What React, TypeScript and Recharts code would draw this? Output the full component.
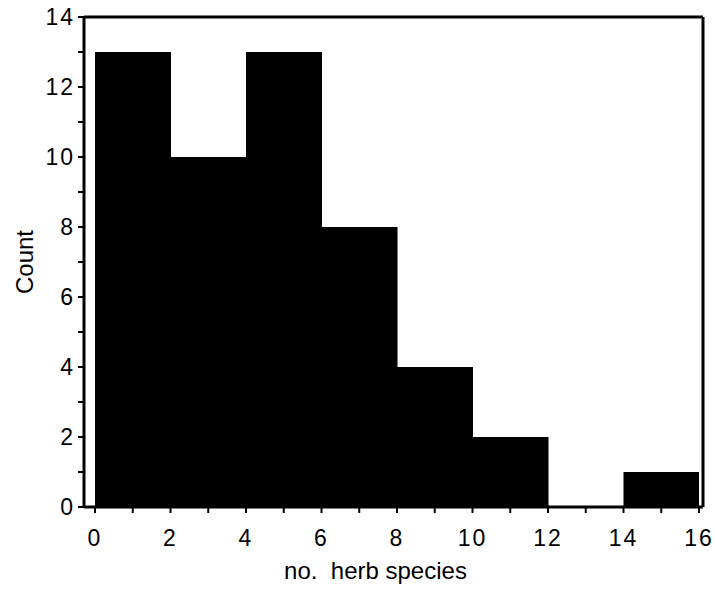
import { BarChart, Bar, XAxis, YAxis } from 'recharts';

// Histogram of herb species counts (bins of width 2, keyed by bin centre)
const BIN_CENTRES = [1, 3, 5, 7, 9, 11, 13, 15];
const COUNTS = [13, 10, 13, 8, 4, 2, 0, 1];
const X_TICKS = [0, 1, 2, 3, 4, 5, 6, 7, 8, 9, 10, 11, 12, 13, 14, 15, 16];
const Y_TICKS = [0, 1, 2, 3, 4, 5, 6, 7, 8, 9, 10, 11, 12, 13, 14];

const FONT = '"Liberation Sans", Arial, Helvetica, sans-serif';
const INK = '#000000';
const X_PAD = { left: 11, right: 4 };

const data = BIN_CENTRES.map((mid, i) => ({ mid, count: COUNTS[i] }));

const evenOnly = (v: number) => (v % 2 === 0 ? String(v) : '');

const tickStyle = { fontSize: 23, fill: INK, fontFamily: FONT, letterSpacing: 2 };
const lineStyle = { stroke: INK, strokeWidth: 3 };
const tickLineStyle = { stroke: INK, strokeWidth: 2 };

export default function App() {
  return (
    <div style={{ position: 'absolute', left: 0, top: 0, background: '#fff' }}>
      <BarChart
        width={715}
        height={589}
        data={data}
        margin={{ top: 0, right: 0, bottom: 0, left: 0 }}
        barCategoryGap={0}
        barGap={0}
      >
        <XAxis
          xAxisId="num"
          dataKey="mid"
          type="number"
          domain={[0, 16]}
          allowDataOverflow
          ticks={X_TICKS}
          interval={0}
          tickFormatter={evenOnly}
          padding={X_PAD}
          height={82}
          tickSize={6}
          tickMargin={17}
          tick={tickStyle}
          axisLine={lineStyle}
          tickLine={tickLineStyle}
          label={{
            content: ({ viewBox }: any) => (
              <text
                x={viewBox.x + viewBox.width / 2 - 18}
                y={viewBox.y + 72}
                textAnchor="middle"
                fontSize={24}
                fontFamily={FONT}
                fill={INK}
                style={{ whiteSpace: 'pre' }}
              >
                no.  herb species
              </text>
            ),
          }}
        />
        <XAxis
          xAxisId="top"
          orientation="top"
          dataKey="mid"
          type="number"
          domain={[0, 16]}
          allowDataOverflow
          ticks={X_TICKS}
          interval={0}
          padding={X_PAD}
          height={17}
          tickSize={5}
          tick={false}
          axisLine={lineStyle}
          tickLine={tickLineStyle}
        />
        <YAxis
          yAxisId="left"
          type="number"
          domain={[0, 14]}
          ticks={Y_TICKS}
          interval={0}
          tickFormatter={evenOnly}
          width={84}
          tickSize={6}
          tickMargin={3}
          tick={tickStyle}
          axisLine={lineStyle}
          tickLine={tickLineStyle}
          label={{
            content: ({ viewBox }: any) => {
              const cy = viewBox.y + viewBox.height / 2;
              return (
                <text
                  x={33}
                  y={cy}
                  transform={`rotate(-90, 33, ${cy})`}
                  textAnchor="middle"
                  fontSize={24}
                  fontFamily={FONT}
                  fill={INK}
                >
                  Count
                </text>
              );
            },
          }}
        />
        <YAxis
          yAxisId="right"
          orientation="right"
          type="number"
          domain={[0, 14]}
          ticks={Y_TICKS}
          interval={0}
          width={12}
          tickSize={5}
          tick={false}
          axisLine={lineStyle}
          tickLine={tickLineStyle}
        />
        <Bar
          dataKey="count"
          xAxisId="num"
          yAxisId="left"
          fill={INK}
          isAnimationActive={false}
        />
      </BarChart>
    </div>
  );
}
